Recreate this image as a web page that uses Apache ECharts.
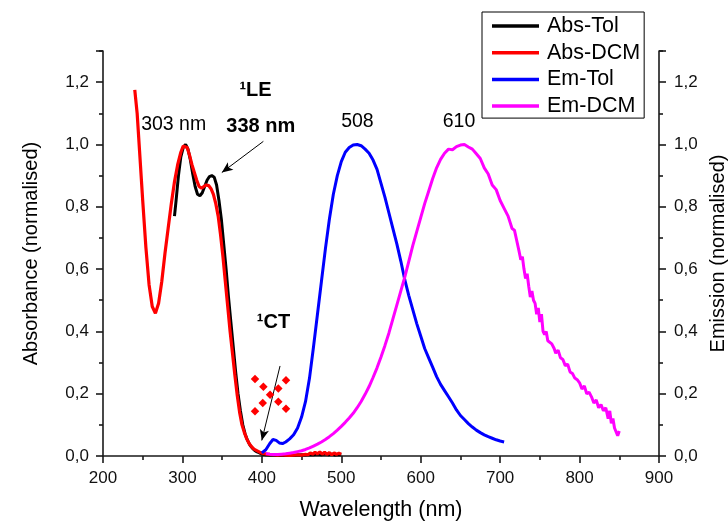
<!DOCTYPE html>
<html>
<head>
<meta charset="utf-8">
<script src="https://cdn.jsdelivr.net/npm/echarts@6/dist/echarts.min.js"></script>
<style>
html,body{margin:0;padding:0;background:#fff;}
#chart{width:728px;height:522px;}
</style>
</head>
<body>
<div id="chart"></div>
<script>
// ---------- DATA ----------
const seriesNames = ['Abs-Tol', 'Abs-DCM', 'Em-Tol', 'Em-DCM'];

const absTolWl  = [290,292,295,298,301,304,307,310,313,316,319,322,325,328,331,334,337,340,343,346,349,352,355,358,361,364,367,370,373,376,379,382,385,388,391,394,397,400,405,410,415,420,425,430,435,440,445,450,455,460,465,470,475,480,484,488,492,496,500];
const absTolVal = [0.77,0.82,0.90,0.96,0.99,1.0,0.985,0.95,0.905,0.865,0.84,0.835,0.845,0.865,0.885,0.897,0.9,0.895,0.87,0.82,0.76,0.68,0.60,0.51,0.43,0.35,0.27,0.20,0.145,0.10,0.07,0.05,0.035,0.025,0.018,0.013,0.01,0.006,0.004,0.003,0.003,0.002,0.003,0.002,0.003,0.002,0.003,0.004,0.003,0.005,0.004,0.006,0.004,0.007,0.004,0.006,0.003,0.005,0.004];

const absDcmWl  = [240,243,246,250,254,258,262,266,270,274,278,282,286,290,294,298,301,303,306,309,312,315,318,321,324,327,330,333,336,339,342,345,348,351,354,357,360,363,366,369,372,375,378,381,384,387,390,393,396,399,402,406,410,415,420,425,430,435,440,445,450,455,458,461,464,467,470,473,476,479,482,485,488,491,494,497,500];
const absDcmVal = [1.175,1.10,0.98,0.82,0.67,0.55,0.48,0.458,0.49,0.56,0.65,0.73,0.81,0.88,0.935,0.975,0.995,1.0,0.99,0.965,0.935,0.91,0.885,0.865,0.86,0.865,0.87,0.868,0.858,0.84,0.81,0.77,0.71,0.64,0.56,0.48,0.40,0.33,0.26,0.195,0.14,0.10,0.075,0.055,0.04,0.03,0.022,0.018,0.014,0.01,0.008,0.006,0.005,0.004,0.003,0.004,0.003,0.002,0.003,0.004,0.003,0.005,0.004,0.01,0.006,0.012,0.007,0.013,0.006,0.012,0.005,0.011,0.004,0.01,0.005,0.009,0.006];

const emTolWl  = [400,405,410,414,418,422,426,430,435,440,445,450,455,460,465,470,475,480,485,490,495,500,505,510,515,520,525,530,535,540,545,550,555,560,565,570,575,580,585,590,595,600,605,610,615,620,625,630,635,640,645,650,655,660,665,670,675,680,685,690,695,700,705];
const emTolVal = [0.01,0.02,0.04,0.053,0.05,0.042,0.04,0.045,0.055,0.068,0.09,0.125,0.175,0.25,0.35,0.455,0.56,0.665,0.76,0.84,0.9,0.945,0.975,0.99,0.998,1.0,0.996,0.985,0.972,0.95,0.92,0.875,0.83,0.78,0.73,0.68,0.625,0.565,0.515,0.47,0.425,0.385,0.345,0.315,0.285,0.255,0.23,0.21,0.19,0.17,0.148,0.13,0.117,0.104,0.093,0.083,0.075,0.068,0.062,0.057,0.052,0.048,0.045];

const emDcmWl  = [405,410,415,420,425,430,435,440,445,450,455,460,465,470,475,480,485,490,495,500,505,510,515,520,525,530,535,540,545,550,555,560,565,570,575,580,585,590,595,600,605,610,615,620,625,630,635,640,645,650,655,660,665,670,675,680,685,690,695,700,705,710,715,718,721,724,726,728,730,732,734,736,738,740,742,744,746,748,750,752,754,756,758,760,762,765,768,770,773,776,779,782,785,788,791,794,797,800,803,806,809,812,815,818,821,824,827,830,833,836,838,840,842,844,846,848,850];
const emDcmVal = [0.008,0.006,0.005,0.005,0.006,0.007,0.009,0.011,0.014,0.017,0.021,0.026,0.032,0.038,0.045,0.053,0.062,0.072,0.083,0.095,0.108,0.122,0.137,0.155,0.175,0.198,0.223,0.252,0.283,0.318,0.355,0.395,0.44,0.485,0.53,0.575,0.625,0.675,0.72,0.765,0.81,0.85,0.89,0.925,0.952,0.972,0.985,0.983,0.993,0.998,1.0,0.992,0.985,0.97,0.955,0.925,0.905,0.87,0.855,0.82,0.795,0.77,0.73,0.725,0.69,0.655,0.63,0.64,0.6,0.57,0.585,0.545,0.51,0.53,0.5,0.49,0.455,0.475,0.43,0.455,0.4,0.39,0.4,0.37,0.375,0.36,0.345,0.33,0.34,0.315,0.31,0.29,0.295,0.27,0.265,0.25,0.245,0.235,0.215,0.225,0.2,0.205,0.19,0.17,0.18,0.155,0.165,0.145,0.155,0.12,0.145,0.105,0.12,0.09,0.085,0.065,0.08];

// crossed-out marker (red diamonds)
const crossWl  = [391.4,401.9,410.3,420.7,430.4,430.4,420.7,401.1,391.4];
const crossVal = [0.247,0.222,0.197,0.174,0.152,0.243,0.217,0.170,0.144];

// annotations
const annotTexts = ['303 nm', '\u00B9LE', '338 nm', '\u00B9CT', '508', '610'];
const annotWl    = [289, 392, 398.7, 414.7, 520.3, 648.2];
const annotVal   = [1.063, 1.173, 1.058, 0.428, 1.073, 1.073];
const annotBold  = [false, true, true, true, false, false];

// arrows [fromWl, fromVal, toWl, toVal]
const arrowLE = [401.9, 1.010, 349.6, 0.91];
const arrowCT = [422.9, 0.289, 399.9, 0.05];

// axes
const xTicks = [200,300,400,500,600,700,800,900];
const yTickLabels = ['0,0','0,2','0,4','0,6','0,8','1,0','1,2'];

// ---------- CHART ----------
const FONT = "'Liberation Sans', Arial, sans-serif";
const zip = (a, b) => a.map((v, i) => [v, b[i]]);
const yFmt = v => {
  const idx = Math.round(v / 0.2);
  if (Math.abs(v - idx * 0.2) > 1e-6) return '';
  return yTickLabels[idx] || '';
};

const axisLineStyle = { color: '#1a1a1a', width: 1.6 };

const yAxisBase = {
  type: 'value', min: 0, max: 1.3, interval: 0.2,
  nameLocation: 'middle', nameRotate: 90,
  nameTextStyle: { fontFamily: FONT, fontSize: 20, color: '#000' },
  axisLine: { show: true, lineStyle: axisLineStyle },
  axisTick: { show: true, inside: false, length: 7, lineStyle: axisLineStyle },
  minorTick: { show: true, splitNumber: 2, length: 4, lineStyle: axisLineStyle },
  splitLine: { show: false },
  axisLabel: { formatter: yFmt, fontFamily: FONT, fontSize: 17, color: '#111', margin: 14 }
};

const option = {
  animation: false,
  backgroundColor: '#fff',
  grid: { left: 103, right: 69, top: 51, bottom: 66, containLabel: false, outerBoundsMode: 'none' },
  legend: {
    data: seriesNames,
    orient: 'vertical',
    left: 482, top: 12,
    icon: 'rect',
    itemWidth: 47, itemHeight: 3.5,
    itemGap: 4.7,
    padding: [3, 4, 1, 10],
    borderColor: '#000', borderWidth: 1,
    backgroundColor: '#fff',
    textStyle: { fontFamily: FONT, fontSize: 21.5, color: '#000', lineHeight: 22, padding: [0,0,0,3] }
  },
  xAxis: {
    type: 'value', min: 200, max: 900, interval: 100,
    name: 'Wavelength (nm)', nameLocation: 'middle', nameGap: 43,
    nameTextStyle: { fontFamily: FONT, fontSize: 21.5, color: '#000' },
    axisLine: { show: true, onZero: false, lineStyle: axisLineStyle },
    axisTick: { show: true, inside: false, length: 7, lineStyle: axisLineStyle },
    minorTick: { show: true, splitNumber: 2, length: 4, lineStyle: axisLineStyle },
    splitLine: { show: false },
    axisLabel: { fontFamily: FONT, fontSize: 17, color: '#111', margin: 14,
      formatter: v => (xTicks.indexOf(v) >= 0 ? String(v) : '') }
  },
  yAxis: [
    Object.assign({}, yAxisBase, { position: 'left', name: 'Absorbance (normalised)', nameGap: 62 }),
    Object.assign({}, yAxisBase, { position: 'right', name: 'Emission (normalised)', nameGap: 47,
      axisLabel: Object.assign({}, yAxisBase.axisLabel, { margin: 15 }) })
  ],
  series: [
    { name: 'Abs-Tol', type: 'line', yAxisIndex: 0, data: zip(absTolWl, absTolVal),
      symbol: 'none', color: '#000000', lineStyle: { width: 3, color: '#000000' } },
    { name: 'Abs-DCM', type: 'line', yAxisIndex: 0, data: zip(absDcmWl, absDcmVal),
      symbol: 'none', color: '#ff0000', lineStyle: { width: 3.2, color: '#ff0000' } },
    { name: 'Em-Tol', type: 'line', yAxisIndex: 1, data: zip(emTolWl, emTolVal),
      symbol: 'none', color: '#0000ff', lineStyle: { width: 3, color: '#0000ff' } },
    { name: 'Em-DCM', type: 'line', yAxisIndex: 1, data: zip(emDcmWl, emDcmVal),
      symbol: 'none', color: '#ff00ff', lineStyle: { width: 3, color: '#ff00ff' } },
    { name: 'cross', type: 'scatter', yAxisIndex: 0, data: zip(crossWl, crossVal),
      symbol: 'diamond', symbolSize: 8.5, itemStyle: { color: '#ff0000', opacity: 1 }, z: 5 },
    { name: 'annotations', type: 'scatter', yAxisIndex: 0, symbolSize: 0, z: 6,
      itemStyle: { opacity: 1 },
      data: annotTexts.map((t, i) => ({
        value: [annotWl[i], annotVal[i]],
        label: { show: true, position: 'inside', formatter: t, opacity: 1,
          fontFamily: FONT, fontSize: annotBold[i] ? 20 : 19.5,
          fontWeight: annotBold[i] ? 'bold' : 'normal', color: '#000',
          textBorderWidth: 0 }
      })),
      markLine: {
        silent: true, symbol: ['none', 'arrow'], symbolSize: [7, 11],
        label: { show: false },
        lineStyle: { color: '#000', width: 1, type: 'solid', opacity: 1 },
        data: [
          [{ coord: [arrowLE[0], arrowLE[1]] }, { coord: [arrowLE[2], arrowLE[3]] }],
          [{ coord: [arrowCT[0], arrowCT[1]] }, { coord: [arrowCT[2], arrowCT[3]] }]
        ]
      }
    }
  ]
};

const chart = echarts.init(document.getElementById('chart'), null, { renderer: 'canvas' });
chart.setOption(option);
</script>
</body>
</html>
